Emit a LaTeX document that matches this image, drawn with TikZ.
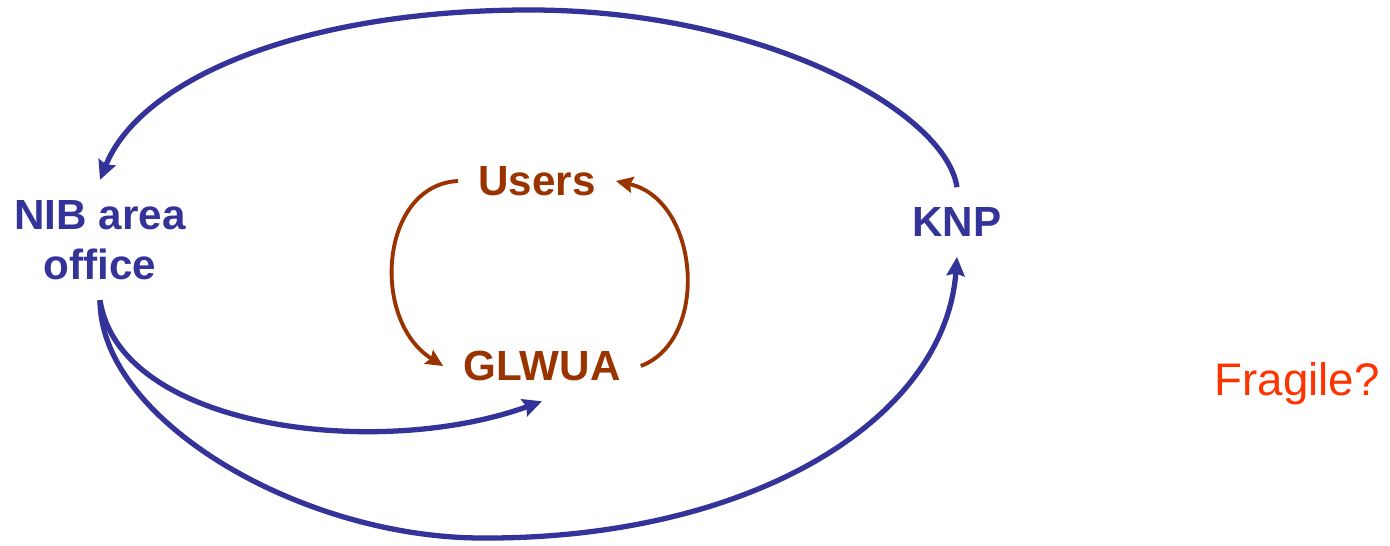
\documentclass[tikz,border=0pt]{standalone}
\usepackage{fontspec}
\setmainfont{Liberation Sans}
\usepackage{tikz}
\usepackage{xcolor}
\usetikzlibrary{arrows.meta,calc,positioning}
\definecolor{linkblue}{RGB}{51,51,153}
\definecolor{userbrown}{RGB}{153,51,0}
\definecolor{warnred}{RGB}{255,51,0}
\tikzset{%
	party/.style  = {font=\fontsize{24}{28.5}\selectfont\bfseries, inner xsep=0.4cm, inner ysep=0.4cm, align=center},
	bluearrow/.style  = {linkblue, line width=3pt, -{Stealth[length=0.38cm, width=0.36cm, inset=0.05cm]}},
	brownarrow/.style = {userbrown, line width=2.2pt, -{Stealth[length=0.34cm, width=0.32cm, inset=0.05cm]}},
}
\begin{document}
\begin{tikzpicture}[x=0.02cm, y=-0.02cm]
	\useasboundingbox (0,0) rectangle (1390,546);
	\node[party, text=linkblue] (nib) at (100,240) {NIB area\\office};
	\node[party, text=userbrown] (users) at (537,181) {Users};
	\node[party, text=userbrown] (glwua) at (542,366) {GLWUA};
	\node[party, text=linkblue] (knp) at (957,222) {KNP};
	\node[font=\fontsize{26}{30}\selectfont, text=warnred] (fragile) at (1297,384) {Fragile?};
	% outer loop
	\draw[bluearrow] (knp.north) .. controls (945,110) and (760,10) .. (530,10)
		.. controls (300,10) and (140,80) .. (nib.north);
	\draw[bluearrow] (nib.south) .. controls (100,420) and (300,537) .. (480,538)
		.. controls (750,540) and (945,420) .. (knp.south);
	\draw[bluearrow] (nib.south) .. controls (120,430) and (380,460) .. (glwua.south);
	% inner loop
	\draw[brownarrow] (users.west) .. controls (380,185) and (370,320) .. (glwua.west);
	\draw[brownarrow] (glwua.east) .. controls (710,340) and (700,200) .. (users.east);
\end{tikzpicture}
\end{document}
